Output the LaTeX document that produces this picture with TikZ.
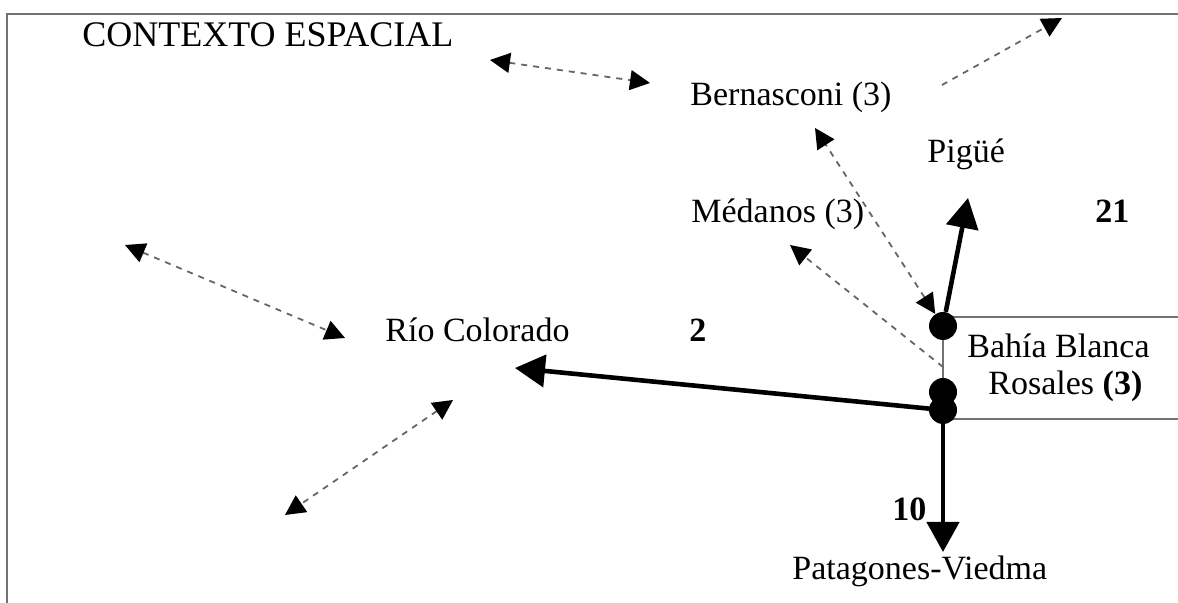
\documentclass[tikz,border=0pt]{standalone}
\usepackage{fontspec}
\setmainfont{Liberation Serif}
\usetikzlibrary{arrows.meta}
\tikzset{
  lbl/.style={anchor=base west, inner sep=0pt, font=\fontsize{17}{19}\selectfont},
  num/.style={lbl, font=\fontsize{17}{19}\selectfont\bfseries},
  dot/.style={circle, fill=black, inner sep=0pt, minimum size=14pt},
  frameline/.style={draw=black!55, line width=1pt},
  boxline/.style={draw=black!55, line width=0.9pt},
  flow/.style={line width=2.3pt, -{Triangle[length=15pt,width=16pt]}},
  link/.style={draw=black!60, line width=0.9pt, dash pattern=on 3pt off 3pt,
    {Triangle[length=10pt,width=10pt,black]}-{Triangle[length=10pt,width=10pt,black]}},
  linkone/.style={draw=black!60, line width=0.9pt, dash pattern=on 3pt off 3pt,
    -{Triangle[length=10pt,width=10pt,black]}}
}
\begin{document}
\begin{tikzpicture}[x=0.5pt,y=-0.5pt]
\useasboundingbox (0,0) rectangle (1178,603);
% frame
\draw[frameline] (7,603) -- (7,14) -- (1178,14);
% Bahia Blanca box
\draw[boxline] (1178,317) -- (943,317) -- (943,419) -- (1178,419);
% texts
\node[lbl, font=\fontsize{18}{20}\selectfont] (ctx) at (82,47) {CONTEXTO ESPACIAL};
\node[lbl] (bern) at (690,106) {Bernasconi (3)};
\node[lbl] (pigue) at (927,163) {Pigüé};
\node[lbl] (med) at (691,223) {Médanos (3)};
\node[num] (n21) at (1095,223) {21};
\node[lbl] (rio) at (385,342) {Río Colorado};
\node[num] (n2) at (689,342) {2};
\node[lbl] (bb) at (967,358) {Bahía Blanca};
\node[lbl] (ros) at (988,395) {Rosales \textbf{(3)}};
\node[num] (n10) at (892,521) {10};
\node[lbl] (pat) at (792,580) {Patagones-Viedma};
% dots
\node[dot] (d1) at (943,326) {};
\node[dot] (d2) at (943,392) {};
\node[dot] (d3) at (943,410) {};
% free ends
\coordinate (tpig) at (968,198);
\coordinate (trio) at (515,368);
\coordinate (tpat) at (943,552);
\coordinate (tbern) at (815,128);
\coordinate (m0) at (943,367);
\coordinate (tmed) at (790,245);
\coordinate (a1) at (490,60);
\coordinate (a2) at (650,83);
\coordinate (b1) at (942,85);
\coordinate (b2) at (1062,18);
\coordinate (c1) at (125,245);
\coordinate (c2) at (345,338);
\coordinate (e1) at (453,400);
\coordinate (e2) at (285,515);
% dashed links
\draw[link] (a1) -- (a2);
\draw[linkone] (b1) -- (b2);
\draw[link] (d1) -- (tbern);
\draw[linkone] (m0) -- (tmed);
\draw[link] (c1) -- (c2);
\draw[link] (e1) -- (e2);
% flows
\draw[flow] (d1) -- (tpig);
\draw[flow] (d3.center) -- (trio);
\draw[flow] (d3.center) -- (tpat);
\end{tikzpicture}
\end{document}
